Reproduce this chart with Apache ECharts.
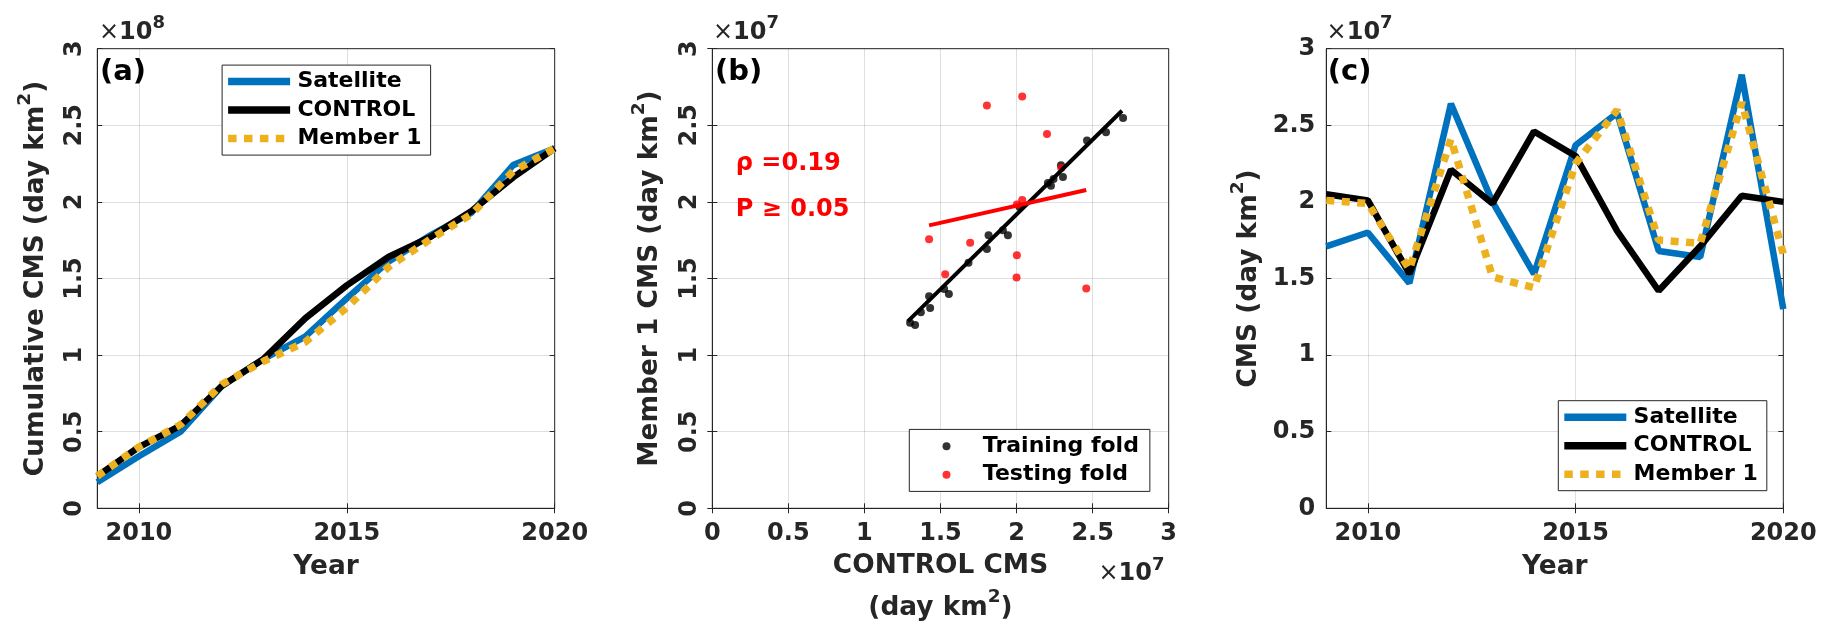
<!DOCTYPE html>
<html><head><meta charset="utf-8">
<script src="https://cdn.jsdelivr.net/npm/echarts@6/dist/echarts.min.js"></script>
<style>html,body{margin:0;padding:0;background:#fff}#c{width:1833px;height:638px}</style>
</head><body><div id="c"></div>
<script>
// ---------- data ----------
const years = [2009, 2010, 2011, 2012, 2013, 2014, 2015, 2016, 2017, 2018, 2019, 2020];
const yearTicks = [2010, 2015, 2020];
// panel (a): cumulative CMS, x1e8 day km^2
const satCum = [0.17, 0.34, 0.50, 0.80, 0.975, 1.12, 1.37, 1.61, 1.78, 1.93, 2.24, 2.35];
const ctlCum = [0.21, 0.40, 0.54, 0.80, 0.975, 1.24, 1.455, 1.64, 1.77, 1.94, 2.16, 2.35];
const memCum = [0.21, 0.40, 0.545, 0.81, 0.96, 1.085, 1.31, 1.575, 1.755, 1.92, 2.20, 2.35];
// panel (c): annual CMS, x1e7 day km^2
const satAnn = [1.71, 1.80, 1.47, 2.64, 2.00, 1.53, 2.37, 2.58, 1.68, 1.64, 2.83, 1.30];
const ctlAnn = [2.05, 2.01, 1.53, 2.21, 1.99, 2.46, 2.30, 1.81, 1.42, 1.71, 2.04, 2.00];
const memAnn = [2.01, 1.99, 1.56, 2.41, 1.51, 1.44, 2.25, 2.60, 1.75, 1.73, 2.65, 1.66];
// panel (b): scatter, x1e7 day km^2
const trainX = [1.300, 1.333, 1.371, 1.425, 1.432, 1.524, 1.555, 1.684, 1.805, 1.816, 1.910, 1.943, 2.020, 2.206, 2.226, 2.243, 2.292, 2.305, 2.463, 2.588, 2.700];
const trainY = [1.211, 1.196, 1.280, 1.384, 1.308, 1.431, 1.399, 1.603, 1.692, 1.782, 1.815, 1.782, 1.966, 2.123, 2.106, 2.149, 2.239, 2.162, 2.401, 2.455, 2.547];
const testX = [1.805, 2.037, 2.200, 2.294, 2.002, 2.037, 1.425, 1.695, 2.002, 1.531, 2.000, 2.458];
const testY = [2.629, 2.688, 2.444, 2.222, 1.983, 2.013, 1.756, 1.733, 1.651, 1.528, 1.506, 1.435];
const trainFitX = [1.285, 2.693];
const trainFitY = [1.220, 2.595];
const testFitX = [1.425, 2.458];
const testFitY = [1.847, 2.078];
const rhoText = 'ρ =0.19';
const pText = 'P ≥ 0.05';

// ---------- style ----------
const AX = '#262626';
const FONT = 'DejaVu Sans';
const BLUE = '#0072BD', ORANGE = '#EDB120';
const zip = (xs, ys) => xs.map((x, i) => [x, ys[i]]);

const grids = [
  {left: 97.3, top: 48.7, width: 457.4, height: 459.6},
  {left: 712.3, top: 48.7, width: 456.4, height: 459.6},
  {left: 1326.3, top: 48.7, width: 457, height: 459.6}
].map(g => Object.assign({show: true, borderColor: AX, borderWidth: 1, containLabel: false}, g));

const tickStyle = {inside: true, length: 5, lineStyle: {color: AX, width: 1}};
const splitStyle = {show: true, lineStyle: {color: 'rgba(38,38,38,0.15)', width: 1}};
const labelBase = {color: AX, fontFamily: FONT, fontWeight: 'bold', fontSize: 24, lineHeight: 24};
const nameRich = {
  t: {fontFamily: FONT, fontWeight: 'bold', fontSize: 26.4, lineHeight: 42, color: AX},
  s: {fontFamily: FONT, fontWeight: 'bold', fontSize: 18.5, lineHeight: 18, color: AX, verticalAlign: 'top'}
};

function yearAxis(gi, pos, main) {
  return {
    type: 'value', gridIndex: gi, position: pos, min: 2009, max: 2020,
    axisLine: {show: main, lineStyle: {color: AX, width: 1}},
    axisTick: Object.assign({customValues: yearTicks}, tickStyle),
    axisLabel: Object.assign({show: main, customValues: yearTicks, margin: 13, formatter: v => String(v)}, labelBase),
    splitLine: main ? splitStyle : {show: false},
    name: main ? 'Year' : '', nameLocation: 'middle', nameGap: 44,
    nameTextStyle: {fontFamily: FONT, fontWeight: 'bold', fontSize: 26.4, lineHeight: 30, color: AX}
  };
}
function valAxis(gi, pos, main, extra) {
  return Object.assign({
    type: 'value', gridIndex: gi, position: pos, min: 0, max: 3, interval: 0.5,
    axisLine: {show: main, lineStyle: {color: AX, width: 1}},
    axisTick: tickStyle,
    axisLabel: Object.assign({show: main, margin: 11}, labelBase),
    splitLine: main ? splitStyle : {show: false}
  }, extra || {});
}

const xAxis = [
  yearAxis(0, 'bottom', true),
  valAxis(1, 'bottom', true, {
    axisLabel: Object.assign({margin: 13}, labelBase),
    name: '{t|CONTROL CMS}\n{t|(day km}{s|2}{t|)}', nameLocation: 'middle', nameGap: 37,
    nameTextStyle: {rich: nameRich}
  }),
  yearAxis(2, 'bottom', true),
  yearAxis(0, 'top', false),
  valAxis(1, 'top', false),
  yearAxis(2, 'top', false)
];
const yAxis = [
  valAxis(0, 'left', true, {
    axisLabel: Object.assign({rotate: 90, margin: 11}, labelBase),
    name: '{t|Cumulative CMS (day km}{s|2}{t|)}', nameLocation: 'middle', nameGap: 40,
    nameTextStyle: {rich: nameRich}
  }),
  valAxis(1, 'left', true, {
    axisLabel: Object.assign({rotate: 90, margin: 11}, labelBase),
    name: '{t|Member 1 CMS (day km}{s|2}{t|)}', nameLocation: 'middle', nameGap: 41,
    nameTextStyle: {rich: nameRich}
  }),
  valAxis(2, 'left', true, {
    name: '{t|CMS (day km}{s|2}{t|)}', nameLocation: 'middle', nameGap: 56,
    nameTextStyle: {rich: nameRich}
  }),
  valAxis(0, 'right', false),
  valAxis(1, 'right', false),
  valAxis(2, 'right', false)
];

function lineSeries(name, xi, ys, color, dashed) {
  return {
    name, type: 'line', xAxisIndex: xi, yAxisIndex: xi, data: zip(years, ys),
    symbol: 'none', clip: false, silent: true, animation: false,
    lineStyle: dashed ? {color, width: 7.5, type: [8, 7.5], cap: 'butt'} : {color, width: 6.5},
    itemStyle: {color}
  };
}

const series = [
  lineSeries('Satellite', 0, satCum, BLUE, false),
  lineSeries('CONTROL', 0, ctlCum, '#000000', false),
  lineSeries('Member 1', 0, memCum, ORANGE, true),
  {name: 'Training fold', type: 'scatter', xAxisIndex: 1, yAxisIndex: 1, data: zip(trainX, trainY),
   symbol: 'circle', symbolSize: 8, itemStyle: {color: '#000000'}, animation: false},
  {name: 'Training fit', type: 'line', xAxisIndex: 1, yAxisIndex: 1, data: zip(trainFitX, trainFitY),
   symbol: 'none', lineStyle: {color: '#000000', width: 4}, animation: false},
  {name: 'Testing fold', type: 'scatter', xAxisIndex: 1, yAxisIndex: 1, data: zip(testX, testY),
   symbol: 'circle', symbolSize: 8, itemStyle: {color: '#FF0000'}, animation: false},
  {name: 'Testing fit', type: 'line', xAxisIndex: 1, yAxisIndex: 1, data: zip(testFitX, testFitY),
   symbol: 'none', lineStyle: {color: '#FF0000', width: 4}, animation: false},
  lineSeries('Satellite', 2, satAnn, BLUE, false),
  lineSeries('CONTROL', 2, ctlAnn, '#000000', false),
  lineSeries('Member 1', 2, memAnn, ORANGE, true)
];

// legend icons: solid bar for solid lines, row of squares for the dotted line
const DOT_ICON = 'path://M0,0h8.5v7.5h-8.5z M15.9,0h8.5v7.5h-8.5z M31.8,0h8.5v7.5h-8.5z M47.7,0h8.5v7.5h-8.5z M62,0';
const legendText = {fontFamily: FONT, fontWeight: 'bold', fontSize: 22, lineHeight: 22, color: '#000', padding: [0, 0, 0, 2.3]};
function lineLegend(left, top) {
  return {
    orient: 'vertical', left, top,
    data: [{name: 'Satellite', icon: 'rect'}, {name: 'CONTROL', icon: 'rect'}, {name: 'Member 1', icon: DOT_ICON}],
    padding: [5.5, 9, 5.5, 6], itemWidth: 62, itemHeight: 7.5, itemGap: 6.5,
    borderColor: AX, borderWidth: 1, backgroundColor: '#fff', selectedMode: false,
    itemStyle: {borderWidth: 0}, textStyle: legendText
  };
}
const legend = [
  lineLegend(222.1, 65.1),
  lineLegend(1558.3, 400.7),
  {
    orient: 'vertical', left: 909.3, top: 429.4, data: ['Training fold', 'Testing fold'],
    padding: [5.75, 11, 5.75, 33.2], itemWidth: 8, itemHeight: 8, itemGap: 6.5, icon: 'circle',
    borderColor: AX, borderWidth: 1, backgroundColor: '#fff', selectedMode: false,
    textStyle: Object.assign({}, legendText, {padding: [0, 0, 0, 27.3]})
  }
];

const expRich = {
  x: {fontFamily: FONT, fontWeight: 'normal', fontSize: 24, lineHeight: 36, fill: AX, color: AX},
  b: {fontFamily: FONT, fontWeight: 'bold', fontSize: 24, lineHeight: 36, fill: AX, color: AX},
  s: {fontFamily: FONT, fontWeight: 'bold', fontSize: 18, lineHeight: 18, fill: AX, color: AX, verticalAlign: 'top'}
};
function expText(x, y, p) {
  return {type: 'text', x, y, silent: true, style: {text: '{x|×}{b|10}{s|' + p + '}', rich: expRich, verticalAlign: 'middle', fontSize: 24, fontFamily: FONT}};
}
function panelLabel(x, t) {
  return {type: 'text', x, y: 72, silent: true, style: {text: t, fontFamily: FONT, fontWeight: 'bold', fontSize: 29, fill: '#000', verticalAlign: 'middle'}};
}
function redText(y, t) {
  return {type: 'text', x: 735.8, y, silent: true, style: {text: t, fontFamily: FONT, fontWeight: 'bold', fontSize: 24, fill: '#FF0000', verticalAlign: 'middle'}};
}
const graphic = [
  expText(99, 32.8, '8'), expText(713, 32.8, '7'), expText(1326.6, 32.8, '7'), expText(1098.4, 574, '7'),
  panelLabel(100, '(a)'), panelLabel(714.9, '(b)'), panelLabel(1327.7, '(c)'),
  redText(164, rhoText), redText(209.6, pText)
];

const chart = echarts.init(document.getElementById('c'), null, {renderer: 'canvas'});
chart.setOption({animation: false, backgroundColor: '#fff', grid: grids, xAxis, yAxis, series, legend, graphic});
</script></body></html>
